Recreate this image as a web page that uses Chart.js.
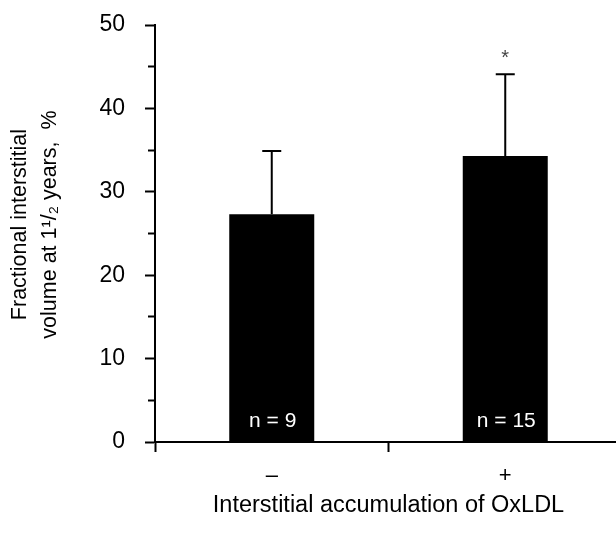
<!DOCTYPE html>
<html>
<head>
<meta charset="utf-8">
<script src="https://cdn.jsdelivr.net/npm/chart.js@4"></script>
<style>
  html, body { margin: 0; padding: 0; background: #fff; overflow: hidden; }
  canvas { display: block; }
</style>
</head>
<body>
<canvas id="myChart" width="622" height="534"></canvas>
<script>
// data
const categories = ['–', '+'];
const means = [27.3, 34.3];
const sds = [7.6, 9.8];
const nLabels = ['n = 9', 'n = 15'];
const marks = ['', '*'];

const yTitle = ['   Fractional interstitial', '   volume at 1¹/₂ years,  %'];
const xTitle = 'Interstitial accumulation of OxLDL';

const FONT = "'Liberation Sans', Arial, sans-serif";

// error bars, n labels and significance star on top of the bars
const barExtras = {
  id: 'barExtras',
  afterDatasetsDraw(chart) {
    const { ctx, scales: { y } } = chart;
    const meta = chart.getDatasetMeta(0);
    ctx.save();
    meta.data.forEach((bar, i) => {
      const top = y.getPixelForValue(means[i] + sds[i]);
      const base = y.getPixelForValue(means[i]);
      ctx.strokeStyle = '#000';
      ctx.lineWidth = 2;
      ctx.beginPath();
      ctx.moveTo(bar.x, base);
      ctx.lineTo(bar.x, top);
      ctx.moveTo(bar.x - 9.5, top);
      ctx.lineTo(bar.x + 9.5, top);
      ctx.stroke();

      ctx.fillStyle = '#fff';
      ctx.font = '21px ' + FONT;
      ctx.textAlign = 'center';
      ctx.textBaseline = 'alphabetic';
      ctx.fillText(nLabels[i], bar.x + 1, y.getPixelForValue(0) - 15);

      if (marks[i]) {
        ctx.fillStyle = '#444';
        ctx.font = '20px ' + FONT;
        ctx.fillText(marks[i], bar.x, top - 10);
      }
    });
    ctx.restore();
  }
};

const ctx = document.getElementById('myChart').getContext('2d');
new Chart(ctx, {
  type: 'bar',
  data: {
    labels: categories,
    datasets: [{
      data: means,
      backgroundColor: '#000',
      borderWidth: 0,
      barPercentage: 0.364,
      categoryPercentage: 1.0,
    }],
  },
  options: {
    responsive: false,
    devicePixelRatio: 1,
    animation: false,
    layout: { padding: { top: 25, left: 0, right: 0, bottom: 0 } },
    plugins: { legend: { display: false }, tooltip: { enabled: false } },
    scales: {
      x: {
        offset: true,
        afterFit(scale) { scale.height = 92; },
        grid: {
          offset: true,
          drawOnChartArea: false,
          tickLength: 10,
          tickWidth: 2,
          tickColor: '#000',
        },
        border: { display: true, color: '#000', width: 2 },
        ticks: {
          color: '#000',
          padding: 11,
          font: { family: FONT, size: 22 },
        },
        title: {
          display: true,
          text: xTitle,
          color: '#000',
          font: { family: FONT, size: 23.5 },
          padding: { top: 0, bottom: 14 },
        },
      },
      y: {
        min: 0,
        max: 50,
        afterFit(scale) {
          scale.width = 155;
          scale.paddingTop = 0;
          scale.paddingBottom = 0;
        },
        grid: {
          drawOnChartArea: false,
          tickLength: 10,
          tickWidth: 2,
          tickColor: '#000',
          // minor ticks (at 5, 15, ...) are shorter than the labelled ones
          tickBorderDash: (c) => (c.tick && c.tick.value % 10 !== 0 ? [6, 20] : []),
          tickBorderDashOffset: (c) => (c.tick && c.tick.value % 10 !== 0 ? 23 : 0),
        },
        border: { display: true, color: '#000', width: 2 },
        ticks: {
          stepSize: 5,
          autoSkip: false,
          color: '#000',
          padding: 20,
          font: { family: FONT, size: 23 },
          callback: (v) => (v % 10 === 0 ? v : ''),
        },
        title: {
          display: true,
          text: yTitle,
          color: '#000',
          font: { family: FONT, size: 21.5, lineHeight: 1.4 },
          padding: { top: 5, bottom: 0 },
        },
      },
    },
  },
  plugins: [barExtras],
});
</script>
</body>
</html>
